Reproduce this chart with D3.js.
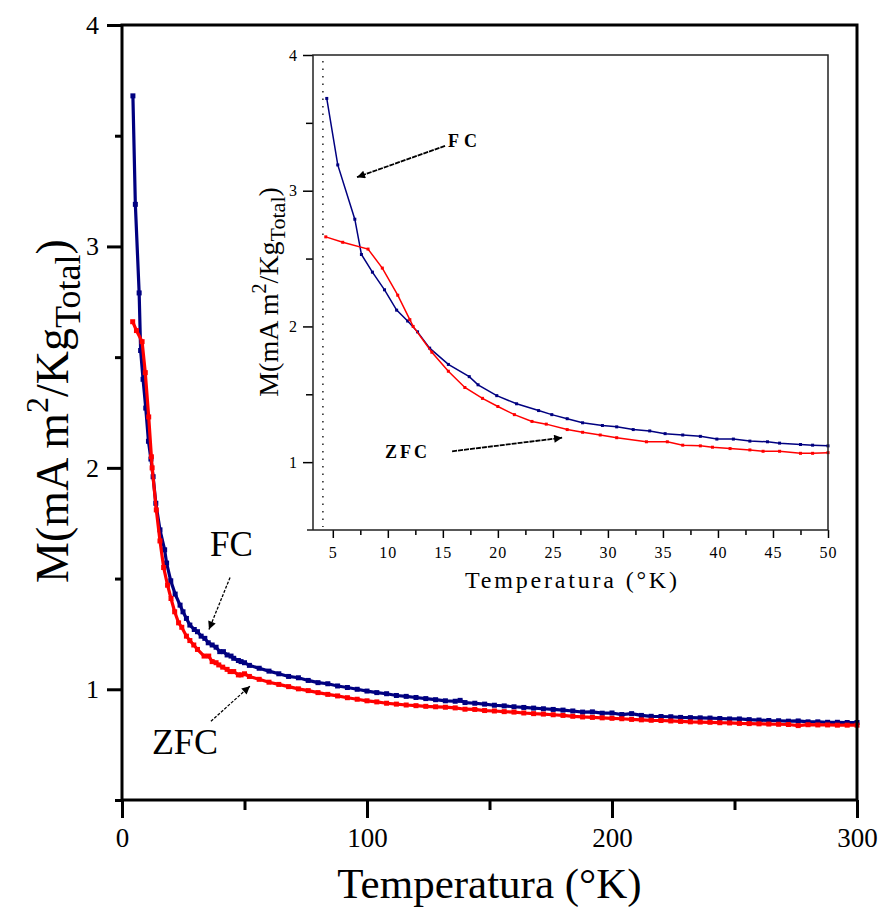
<!DOCTYPE html>
<html><head><meta charset="utf-8">
<script src="https://cdn.jsdelivr.net/npm/d3@7"></script>
<style>
body{margin:0;background:#fff}
svg{display:block}
text{font-family:"Liberation Serif","Times New Roman",serif;fill:#000}
</style>
</head><body>
<svg id="c" width="884" height="907"></svg>
<script>
// ---------- DATA ----------
const fcT = [4.45,5.45,7.0,7.6,8.6,9.7,10.8,11.8,12.7,13.8,15.5,17.4,18.2,19.9,21.7,23.7,24.9,26.3,27.7,29.5,30.8,32.3,33.8,35.2,36.8,38.4,39.9,41.4,42.9,44.5,45.6,47.5,48.6,50,
  52,56,60,64,68,72,76,80,84,88,92,96,100,104,108,112,116,120,124,128,132,136,138,140,144,148,152,156,160,164,168,172,176,180,184,188,192,196,200,204,208,212,216,220,224,228,232,236,240,244,248,252,256,260,264,268,272,276,280,284,288,292,296,300];
const fcM = [3.68,3.19,2.79,2.53,2.40,2.27,2.12,2.04,1.96,1.84,1.72,1.63,1.57,1.49,1.43,1.38,1.35,1.32,1.29,1.27,1.26,1.24,1.23,1.21,1.20,1.19,1.17,1.17,1.155,1.15,1.14,1.13,1.125,1.12,
  1.108,1.095,1.082,1.070,1.058,1.052,1.040,1.030,1.025,1.015,1.008,1.000,0.992,0.985,0.980,0.972,0.968,0.963,0.958,0.953,0.948,0.946,0.950,0.940,0.937,0.933,0.928,0.925,0.921,0.918,0.915,0.912,0.909,0.906,0.902,0.897,0.898,0.892,0.893,0.886,0.890,0.882,0.878,0.877,0.876,0.873,0.872,0.871,0.870,0.868,0.866,0.866,0.863,0.861,0.859,0.858,0.856,0.857,0.853,0.853,0.851,0.851,0.850,0.850];
const zfcT = [4.36,5.9,8.2,9.5,10.9,12.0,12.3,14.0,15.5,17.0,18.6,20,21.5,23.1,24.4,26.3,27.7,29.3,30.8,33.5,35.4,36.8,38.4,39.5,41.1,42.9,44.1,45.6,47.5,48.6,50,
  52,56,60,64,68,72,76,80,84,88,92,96,100,104,108,112,116,120,124,128,132,136,140,144,148,152,156,160,164,168,172,176,180,184,188,192,196,200,204,208,212,216,220,224,228,232,236,240,244,248,252,256,260,264,268,272,276,280,284,288,292,296,300];
const zfcM = [2.66,2.62,2.57,2.43,2.23,2.05,2.0,1.81,1.67,1.55,1.47,1.41,1.35,1.30,1.28,1.24,1.22,1.20,1.18,1.15,1.15,1.125,1.12,1.11,1.10,1.09,1.08,1.08,1.065,1.065,1.07,
  1.058,1.045,1.032,1.022,1.012,1.002,0.994,0.985,0.977,0.970,0.962,0.955,0.948,0.943,0.937,0.933,0.929,0.926,0.923,0.921,0.919,0.916,0.910,0.909,0.904,0.902,0.899,0.897,0.893,0.890,0.888,0.885,0.882,0.878,0.875,0.873,0.871,0.869,0.867,0.864,0.862,0.860,0.859,0.857,0.855,0.853,0.852,0.851,0.849,0.848,0.846,0.845,0.844,0.843,0.842,0.841,0.836,0.840,0.839,0.839,0.838,0.838,0.838];

const mainXMajor = [0,100,200,300];
const mainXMinor = [50,150,250];
const mainYMajor = [1,2,3,4];
const mainYMinor = [0.5,1.5,2.5,3.5];
const insetXMajor = [5,10,15,20,25,30,35,40,45,50];
const insetXMinor = [7.5,12.5,17.5,22.5,27.5,32.5,37.5,42.5,47.5];
const insetYMajor = [1,2,3,4];
const insetYMinor = [1.5,2.5,3.5];
const tcMarker = 4.1; // dotted reference line in inset

// annotations in data units: [label, labelT, labelM, fromT, fromM, toT, toM]
const mainNotes = [["FC",35.9,1.60,44.1,1.505,35.5,1.27],["ZFC",12.2,0.707,36.3,0.856,52.2,1.014]];
const insetNotes = [["FC",15.47,3.32,15.2,3.33,7.2,3.10],["ZFC",9.75,1.03,15.84,1.08,25.84,1.18]];

const colFC = "#000080", colZFC = "#ff0000";
const serif = '"Liberation Serif","Times New Roman",serif';

// ---------- DRAW ----------
const svg = d3.select("#c");
const defs = svg.append("defs");
defs.append("marker").attr("id","ah").attr("viewBox","0 0 10 10").attr("refX",10).attr("refY",5)
  .attr("markerWidth",11).attr("markerHeight",8).attr("markerUnits","userSpaceOnUse").attr("orient","auto")
  .append("path").attr("d","M0,0 L10,5 L0,10 Z").attr("fill","#000");

const fc = fcT.map((t,i)=>({t, m: fcM[i]}));
const zfc = zfcT.map((t,i)=>({t, m: zfcM[i]}));

// Main
const x = d3.scaleLinear([0,300],[122,857]);
const y = d3.scaleLinear([0.5,4],[800,25]);

const gMain = svg.append("g");
function series(g, data, xs, ys, col, lw, ms){
  g.append("path").datum(data).attr("fill","none").attr("stroke",col).attr("stroke-width",lw)
    .attr("d", d3.line().x(d=>xs(d.t)).y(d=>ys(d.m)));
  g.selectAll(null).data(data).enter().append("rect")
    .attr("x",d=>xs(d.t)-ms/2).attr("y",d=>ys(d.m)-ms/2).attr("width",ms).attr("height",ms).attr("fill",col);
}
series(gMain, fc, x, y, colFC, 3.2, 5);
series(gMain, zfc, x, y, colZFC, 3.2, 5);

// main axes
function styleAxis(g, w, fs){
  g.attr("font-family",serif).attr("font-size",fs||10);
  g.select(".domain").remove(); g.selectAll("line").attr("stroke","#000").attr("stroke-width",w);
  g.selectAll("text").style("font-family",serif).style("font-size",(fs||10)+"px");
}
const axXMaj = svg.append("g").attr("transform","translate(0,800)")
  .call(d3.axisBottom(x).tickValues(mainXMajor).tickSize(18).tickPadding(10).tickFormat(d3.format("d")));
styleAxis(axXMaj,3,27);
const axXMin = svg.append("g").attr("transform","translate(0,800)")
  .call(d3.axisBottom(x).tickValues(mainXMinor).tickSize(10).tickFormat(""));
styleAxis(axXMin,3);
const axYMaj = svg.append("g").attr("transform","translate(122,0)")
  .call(d3.axisLeft(y).tickValues(mainYMajor).tickSize(15).tickPadding(8).tickFormat(d3.format("d")));
styleAxis(axYMaj,3,26);
const axYMin = svg.append("g").attr("transform","translate(122,0)")
  .call(d3.axisLeft(y).tickValues(mainYMinor).tickSize(7).tickFormat(""));
styleAxis(axYMin,3);
svg.append("rect").attr("x",x(0)).attr("y",y(4)).attr("width",x(300)-x(0)).attr("height",y(0.5)-y(4))
  .attr("fill","none").attr("stroke","#000").attr("stroke-width",3);

// main labels
svg.append("text").attr("x",(x(0)+x(300))/2).attr("y",898).attr("text-anchor","middle")
  .style("font-size","43px").text("Temperatura (°K)");
const yl = svg.append("text").attr("transform","translate(68,411) rotate(-90)").attr("text-anchor","middle").style("font-size","46px");
yl.append("tspan").text("M(mA m");
yl.append("tspan").attr("dy",-20).style("font-size","32px").text("2");
yl.append("tspan").attr("dy",20).text("/Kg");
yl.append("tspan").attr("dy",12).style("font-size","36px").text("Total");
yl.append("tspan").attr("dy",-12).text(")");

// main annotations
mainNotes.forEach(n=>{
  svg.append("text").attr("x",x(n[1])).attr("y",y(n[2])).style("font-size",n[0]==="FC"?"35px":"36px").text(n[0]);
  svg.append("line").attr("x1",x(n[3])).attr("y1",y(n[4])).attr("x2",x(n[5])).attr("y2",y(n[6]))
    .attr("stroke","#000").attr("stroke-width",1.3).attr("stroke-dasharray","3,1.5").attr("marker-end","url(#ah)");
});

// ---------- INSET ----------
const xi = d3.scaleLinear([3.2,50],[313,828]);
const yi = d3.scaleLinear([0.5,4],[530,55]);
const gIn = svg.append("g");
gIn.append("rect").attr("x",xi(3.2)).attr("y",yi(4)).attr("width",xi(50)-xi(3.2)).attr("height",yi(0.5)-yi(4)).attr("fill","#fff");
gIn.append("line").attr("x1",xi(tcMarker)).attr("x2",xi(tcMarker)).attr("y1",yi(4)+6).attr("y2",yi(0.5)-3)
  .attr("stroke","#222").attr("stroke-width",1.5).attr("stroke-dasharray","1.5,6");
const gInData = gIn.append("g");
series(gInData, fc.filter(d=>d.t<=50), xi, yi, colFC, 1.5, 3);
series(gInData, zfc.filter(d=>d.t<=50), xi, yi, colZFC, 1.5, 3);

const aix = gIn.append("g").attr("transform","translate(0,530)")
  .call(d3.axisBottom(xi).tickValues(insetXMajor).tickSize(8).tickPadding(9).tickFormat(d3.format("d")));
styleAxis(aix,1.5,16);
const aixm = gIn.append("g").attr("transform","translate(0,530)")
  .call(d3.axisBottom(xi).tickValues(insetXMinor).tickSize(5).tickFormat(""));
styleAxis(aixm,1.5);
const aiy = gIn.append("g").attr("transform","translate(313,0)")
  .call(d3.axisLeft(yi).tickValues(insetYMajor).tickSize(10).tickPadding(5).tickFormat(d3.format("d")));
styleAxis(aiy,1.5,16);
const aiym = gIn.append("g").attr("transform","translate(313,0)")
  .call(d3.axisLeft(yi).tickValues(insetYMinor).tickSize(7).tickFormat(""));
styleAxis(aiym,1.5);
gIn.selectAll(".tick text").style("letter-spacing","1px");
// inset frame
gIn.append("path").attr("d",`M${xi(3.2)-6},${yi(0.5)} H${xi(50)} V${yi(4)} H${xi(3.2)} V${yi(0.5)}`)
  .attr("fill","none").attr("stroke","#222").attr("stroke-width",1.5);

gIn.append("text").attr("x",465).attr("y",588).attr("textLength",212).attr("lengthAdjust","spacing")
  .style("font-size","24px").text("Temperatura (°K)");
const yli = gIn.append("text").attr("transform","translate(278,292) rotate(-90)").attr("text-anchor","middle").style("font-size","28px");
yli.append("tspan").text("M(mA m");
yli.append("tspan").attr("dy",-12).style("font-size","20px").text("2");
yli.append("tspan").attr("dy",12).text("/Kg");
yli.append("tspan").attr("dy",7).style("font-size","22px").text("Total");
yli.append("tspan").attr("dy",-7).text(")");

insetNotes.forEach(n=>{
  gIn.append("text").attr("x",xi(n[1])).attr("y",yi(n[2])).style("font-size","18px").style("font-weight","bold")
    .attr("textLength",n[0]==="FC"?29:42).attr("lengthAdjust","spacing").text(n[0]);
  gIn.append("line").attr("x1",xi(n[3])).attr("y1",yi(n[4])).attr("x2",xi(n[5])).attr("y2",yi(n[6]))
    .attr("stroke","#000").attr("stroke-width",1.8).attr("stroke-dasharray","5,1").attr("marker-end","url(#ah)");
});
</script>
</body></html>
